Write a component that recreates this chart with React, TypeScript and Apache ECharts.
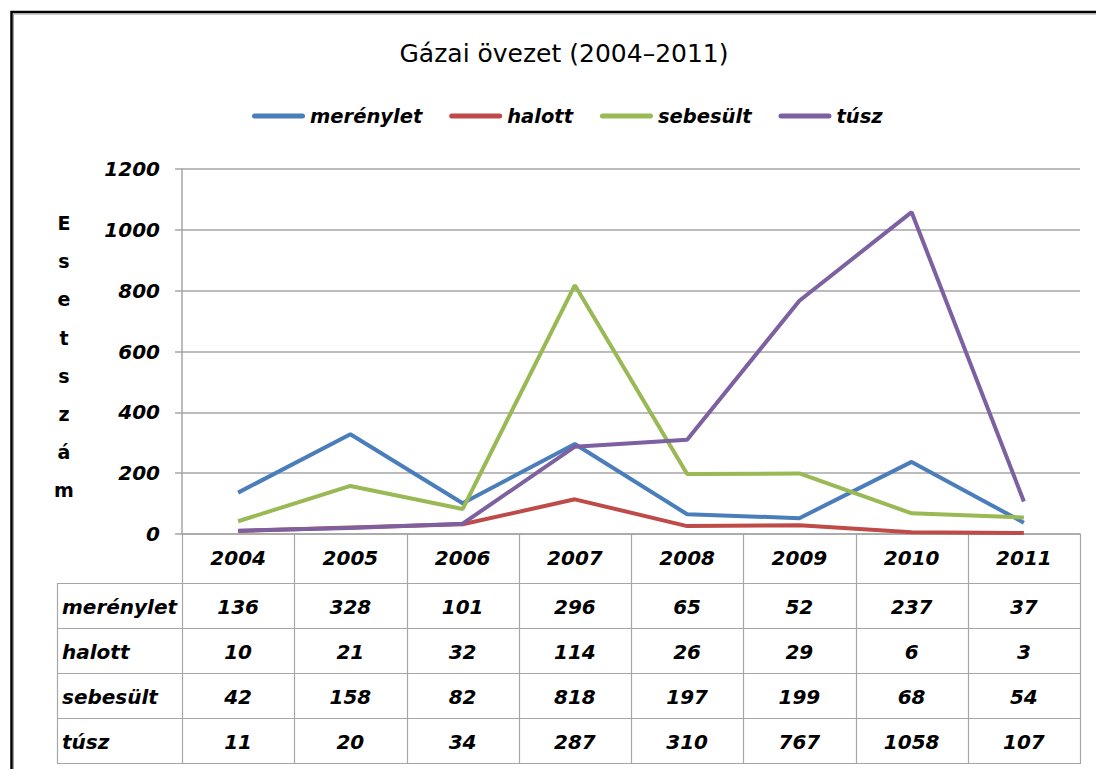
import React, { useEffect, useRef } from "react";
import * as echarts from "echarts";

const years = ["2004", "2005", "2006", "2007", "2008", "2009", "2010", "2011"];
const merenylet = [136, 328, 101, 296, 65, 52, 237, 37];
const halott = [10, 21, 32, 114, 26, 29, 6, 3];
const sebesult = [42, 158, 82, 818, 197, 199, 68, 54];
const tusz = [11, 20, 34, 287, 310, 767, 1058, 107];
const seriesNames = ["merénylet", "halott", "sebesült", "túsz"];
const seriesValues = [merenylet, halott, sebesult, tusz];
const seriesColors = ["#4A7EBB", "#BE4B48", "#98B954", "#7D60A0"];
const titleText = "Gázai övezet (2004–2011)";
const yAxisName = "Esetszám";
const yMin = 0;
const yMax = 1200;
const yInterval = 200;

const FONT = "DejaVu Sans";

export default function App() {
  const ref = useRef<HTMLDivElement>(null);

  useEffect(() => {
    if (!ref.current) return;
    const chart = echarts.init(ref.current, null, { renderer: "svg" });

    const gridLeft = 182;
    const gridTop = 169;
    const gridWidth = 898;
    const gridHeight = 365;
    const gridBottomY = gridTop + gridHeight;
    const colW = gridWidth / years.length;
    const headerBottom = 583;
    const rowH = 45;
    const tableLeft = 57;
    const tableBottom = headerBottom + rowH * seriesNames.length;
    const gridColor = "#A6A6A6";

    const graphics: any[] = [];
    // outer frame
    graphics.push({
      type: "rect",
      silent: true,
      shape: { x: 11.5, y: 12, width: 1120, height: 800 },
      style: { fill: "none", stroke: "#000", lineWidth: 2.5 },
    });
    graphics.push({
      type: "rect",
      silent: true,
      shape: { x: 13.5, y: 14, width: 1120, height: 800 },
      style: { fill: "none", stroke: "#9a9a9a", lineWidth: 1 },
    });

    // y axis name, stacked letters
    Array.from(yAxisName).forEach((ch, i) => {
      graphics.push({
        type: "text",
        silent: true,
        x: 64,
        y: 223 + i * 38.2,
        style: {
          text: ch,
          fontFamily: FONT,
          fontSize: 19,
          fontWeight: "bold",
          fill: "#000",
          textAlign: "center",
          textVerticalAlign: "middle",
        },
      });
    });

    // table lines: verticals
    for (let k = 0; k <= years.length; k++) {
      const x = Math.round(gridLeft + k * colW) + 0.5;
      graphics.push({
        type: "line",
        silent: true,
        shape: { x1: x, y1: gridBottomY, x2: x, y2: tableBottom },
        style: { stroke: gridColor, lineWidth: 1.2 },
      });
    }
    graphics.push({
      type: "line",
      silent: true,
      shape: { x1: tableLeft + 0.5, y1: headerBottom, x2: tableLeft + 0.5, y2: tableBottom },
      style: { stroke: gridColor, lineWidth: 1.2 },
    });
    for (let r = 0; r <= seriesNames.length; r++) {
      const y = headerBottom + r * rowH + 0.5;
      graphics.push({
        type: "line",
        silent: true,
        shape: { x1: tableLeft, y1: y, x2: gridLeft + gridWidth + 1, y2: y },
        style: { stroke: gridColor, lineWidth: 1.2 },
      });
    }
    // table texts
    seriesNames.forEach((name, r) => {
      const cy = headerBottom + r * rowH + rowH / 2 + 1;
      graphics.push({
        type: "text",
        silent: true,
        x: tableLeft + 5,
        y: cy,
        style: {
          text: name,
          fontFamily: FONT,
          fontSize: 20,
          fontWeight: "bold",
          fontStyle: "italic",
          fill: "#000",
          textAlign: "left",
          textVerticalAlign: "middle",
        },
      });
      seriesValues[r].forEach((v, c) => {
        graphics.push({
          type: "text",
          silent: true,
          x: gridLeft + c * colW + colW / 2,
          y: cy,
          style: {
            text: String(v),
            fontFamily: FONT,
            fontSize: 20,
            fontWeight: "bold",
            fontStyle: "italic",
            fill: "#000",
            textAlign: "center",
            textVerticalAlign: "middle",
          },
        });
      });
    });

    const option: any = {
      animation: false,
      backgroundColor: "#fff",
      title: {
        text: titleText,
        left: 559,
        top: 36,
        textAlign: "center",
        textStyle: {
          fontFamily: FONT,
          fontSize: 25,
          fontWeight: "normal",
          color: "#000",
        },
      },
      legend: {
        left: 247,
        top: 101,
        itemWidth: 53,
        itemHeight: 22,
        itemGap: 27,
        icon: "path://M2.5,0 L50.5,0 A2.5,2.5 0 0 1 50.5,5 L2.5,5 A2.5,2.5 0 0 1 2.5,0 Z",
        data: seriesNames.map((n, i) => ({
          name: n,
          itemStyle: { color: seriesColors[i] },
        })),
        textStyle: {
          fontFamily: FONT,
          fontSize: 19.5,
          fontWeight: "bold",
          fontStyle: "italic",
          color: "#000",
        },
      },
      grid: {
        left: gridLeft,
        top: gridTop,
        width: gridWidth,
        height: gridHeight,
        containLabel: false,
      },
      xAxis: {
        type: "category",
        data: years,
        boundaryGap: true,
        axisLine: { show: true, lineStyle: { color: gridColor, width: 1.5 } },
        axisTick: { show: false },
        axisLabel: {
          margin: 14,
          fontFamily: FONT,
          fontSize: 20,
          fontWeight: "bold",
          fontStyle: "italic",
          color: "#000",
          interval: 0,
        },
        splitLine: { show: false },
      },
      yAxis: {
        type: "value",
        min: yMin,
        max: yMax,
        interval: yInterval,
        axisLine: { show: true, lineStyle: { color: gridColor, width: 1.5 } },
        axisTick: { show: true, length: 7, lineStyle: { color: gridColor, width: 1.5 } },
        axisLabel: {
          margin: 22,
          fontFamily: FONT,
          fontSize: 20,
          fontWeight: "bold",
          fontStyle: "italic",
          color: "#000",
          formatter: (v: number) => String(v),
        },
        splitLine: { show: true, lineStyle: { color: gridColor, width: 1.5 } },
      },
      series: seriesNames.map((n, i) => ({
        name: n,
        type: "line",
        data: seriesValues[i],
        symbol: "none",
        showSymbol: false,
        lineStyle: { color: seriesColors[i], width: 4 },
        itemStyle: { color: seriesColors[i] },
        z: 3 + i,
      })),
      graphic: graphics,
    };

    chart.setOption(option);
    return () => chart.dispose();
  }, []);

  return (
    <div
      ref={ref}
      style={{
        position: "fixed",
        left: 0,
        top: 0,
        width: 1096,
        height: 769,
        background: "#fff",
      }}
    />
  );
}
